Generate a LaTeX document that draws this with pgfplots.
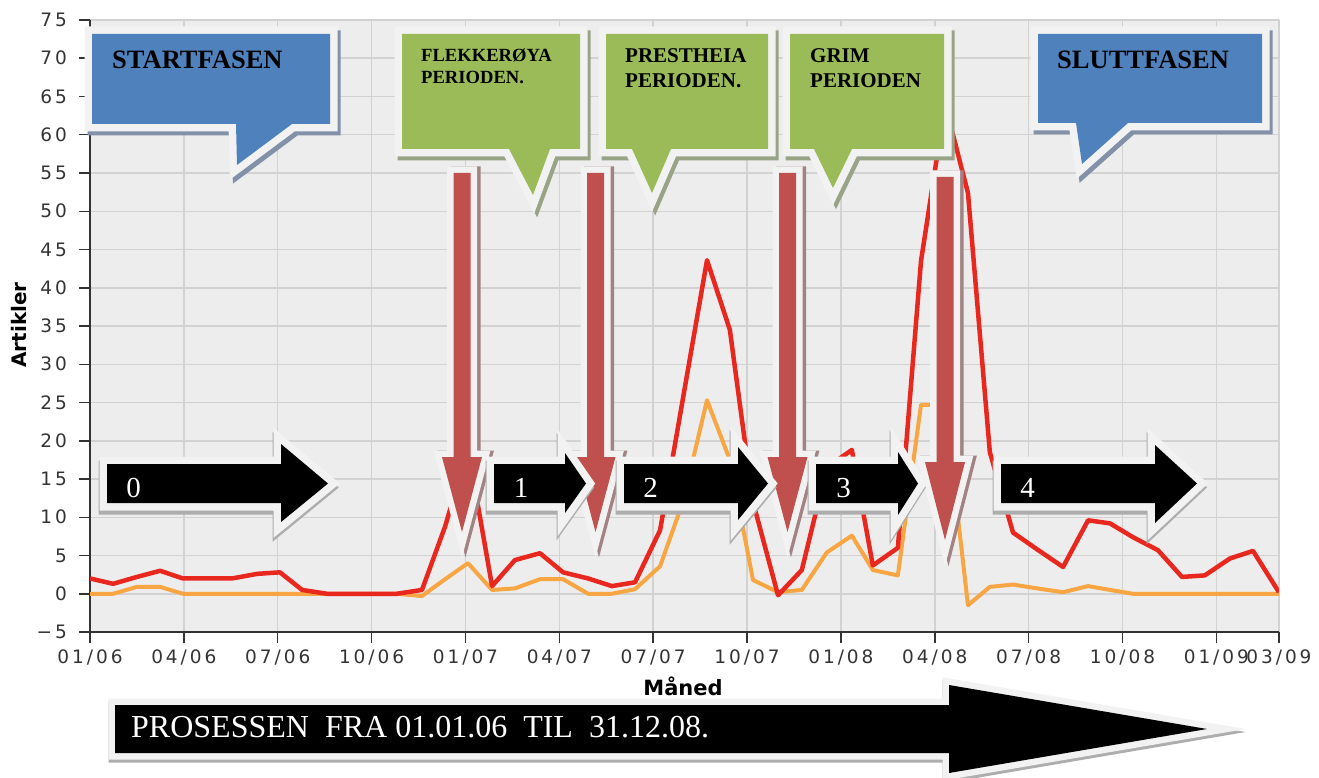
\documentclass[border=0pt]{standalone}
\usepackage{fontspec}
\setmainfont{Liberation Serif}
\newfontfamily\tickfont{DejaVu Sans}[LetterSpace=16]
\newfontfamily\labfont{DejaVu Sans}
\usepackage{pgfplots}
\pgfplotsset{compat=1.18}

\definecolor{plotbg}{HTML}{EDEDED}
\definecolor{gridc}{HTML}{D2D2D2}
\definecolor{axisc}{HTML}{333333}
\definecolor{redline}{HTML}{E8281E}
\definecolor{orangeline}{HTML}{F8A543}
\definecolor{callblue}{HTML}{4F81BD}
\definecolor{callgreen}{HTML}{9BBB59}
\definecolor{arrred}{HTML}{C0504D}
\definecolor{bord}{HTML}{F2F2F2}
\definecolor{shblue}{HTML}{8290A8}
\definecolor{shgreen}{HTML}{99A386}
\definecolor{shred}{HTML}{A38283}
\definecolor{shgray}{HTML}{ADADAD}

% fill, shadow colour, shadow shift, border width, closed path
\newcommand\shape[5]{%
  \filldraw[draw=#2, fill=#2, line width=#4, line join=miter, miter limit=10, shift={#3}] #5;
  \filldraw[draw=bord, fill=bord, line width=#4, line join=miter, miter limit=10] #5;
  \fill[#1] #5;}
% red down arrow: centre x, top, head top, tip y
\newcommand\redarrow[4]{\shape{arrred}{shred}{(3.5,0)}{13pt}{(#1-8.5,#2) -- (#1+8.5,#2) -- (#1+8.5,#3) -- (#1+20,#3) -- (#1,#4) -- (#1-20,#3) -- (#1-8.5,#3) -- cycle}}
% black right arrow: body left, head base, head top, head bottom, tip x
\newcommand\blackarrow[5]{\shape{black}{shgray}{(-1,4)}{15pt}{(#1,464) -- (#2,464) -- (#2,#3) -- (#5,483.5) -- (#2,#4) -- (#2,503) -- (#1,503) -- cycle}}

\begin{document}
\begin{tikzpicture}
\path[use as bounding box] (0,0) rectangle (1319pt,-778pt);
\begin{axis}[
  at={(90pt,-632pt)}, anchor=south west,
  scale only axis, width=1189pt, height=612pt,
  xmin=0, xmax=38, ymin=-5, ymax=75,
  axis x line*=bottom, axis y line*=left,
  axis line style={draw=axisc, line width=2pt},
  axis background/.style={fill=plotbg},
  grid=major, major grid style={draw=gridc, line width=1.5pt},
  tick align=outside, major tick length=11pt,
  tick style={draw=axisc, line width=1.5pt},
  xtick={0,3,6,9,12,15,18,21,24,27,30,33,36,38},
  xticklabels={01/06,04/06,07/06,10/06,01/07,04/07,07/07,10/07,01/08,04/08,07/08,10/08,01/09,03/09},
  ytick={-5,0,5,10,15,20,25,30,35,40,45,50,55,60,65,70,75},
  yticklabels={−5,0,5,10,15,20,25,30,35,40,45,50,55,60,65,70,75},
  ticklabel style={font=\tickfont\fontsize{18.5}{18.5}\selectfont, text=axisc, inner sep=0pt},
  yticklabel style={xshift=-12pt},
  xticklabel style={yshift=-7pt},
]
\addplot[orangeline, line width=4pt, line join=round] coordinates {
 (0,0) (0.74,0) (1.50,0.9) (2.24,0.9) (2.97,0) (3.77,0) (4.54,0) (5.34,0)
 (6.07,0) (6.78,0) (7.57,0) (8.31,0) (9.08,0) (9.81,0) (10.61,-0.3) (11.35,1.9)
 (12.08,4.0) (12.85,0.5) (13.58,0.7) (14.38,1.9) (15.12,1.9) (15.92,0) (16.68,0)
 (17.42,0.6) (18.22,3.6) (18.95,12.0) (19.72,25.3) (20.45,17.5) (21.19,1.8)
 (21.99,0.2) (22.75,0.5) (23.55,5.4) (24.35,7.6) (25.02,3.1) (25.82,2.4)
 (26.56,24.7) (27.33,24.7) (28.06,-1.5) (28.76,0.9) (29.50,1.2) (30.27,0.7)
 (31.10,0.2) (31.90,1.0) (32.60,0.5) (33.33,0) (34.13,0) (34.90,0) (35.63,0)
 (36.43,0) (37.17,0) (38.00,0)
};
\addplot[redline, line width=4.5pt, line join=round] coordinates {
 (0,2.0) (0.74,1.3) (1.50,2.2) (2.24,3.0) (2.97,2.0) (3.77,2.0) (4.54,2.0)
 (5.34,2.6) (6.07,2.8) (6.78,0.5) (7.57,0) (8.31,0) (9.08,0) (9.81,0)
 (10.61,0.5) (11.35,8.8) (12.08,19.0) (12.85,1.0) (13.58,4.4) (14.38,5.3)
 (15.12,2.8) (15.92,2.0) (16.68,1.0) (17.42,1.5) (18.22,8.3) (18.95,25.5)
 (19.72,43.6) (20.45,34.5) (21.19,12.0) (21.99,-0.2) (22.75,3.1) (23.55,16.5)
 (24.35,18.8) (25.02,3.7) (25.82,6.0) (26.56,43.5) (27.33,64.0) (28.06,52.4)
 (28.76,18.5) (29.50,8.0) (30.27,5.8) (31.10,3.5) (31.90,9.6) (32.60,9.2)
 (33.33,7.4) (34.13,5.7) (34.90,2.2) (35.63,2.4) (36.43,4.6) (37.17,5.6)
 (38.00,0.2)
};
\end{axis}

\begin{scope}[x=1pt, y=-1pt]
% axis titles
\node[rotate=90, font=\labfont\bfseries\fontsize{20}{20}\selectfont, text=black] at (19,325) {Artikler};
\node[font=\labfont\bfseries\fontsize{21}{21}\selectfont, text=black] at (683,686) {Måned};

% callouts
\shape{callblue}{shblue}{(3,4)}{15pt}{(92,34) -- (330,34) -- (330,124) -- (292,124) -- (237,165) -- (236,124) -- (92,124) -- cycle}
\shape{callgreen}{shgreen}{(3,4)}{15pt}{(402,34) -- (580,34) -- (580,149) -- (550,149) -- (533,195) -- (509,149) -- (402,149) -- cycle}
\shape{callgreen}{shgreen}{(3,4)}{15pt}{(606,34) -- (768,34) -- (768,149) -- (671,149) -- (652,193) -- (632,149) -- (606,149) -- cycle}
\shape{callgreen}{shgreen}{(3,4)}{15pt}{(790,34) -- (944,34) -- (944,149) -- (852,149) -- (833,188) -- (814,149) -- (790,149) -- cycle}
\shape{callblue}{shblue}{(3,4)}{15pt}{(1038,34) -- (1262,34) -- (1262,123) -- (1128,123) -- (1082,164) -- (1076,123) -- (1038,123) -- cycle}

\begin{scope}[every node/.style={anchor=base west, inner sep=0pt, text=black}]
\node[font=\bfseries\fontsize{26.5}{26.5}\selectfont] at (112,69) {STARTFASEN};
\node[font=\bfseries\fontsize{18.6}{18.6}\selectfont] at (421,62) {FLEKKERØYA};
\node[font=\bfseries\fontsize{18.6}{18.6}\selectfont] at (421,83.5) {PERIODEN.};
\node[font=\bfseries\fontsize{21}{21}\selectfont] at (625,63) {PRESTHEIA};
\node[font=\bfseries\fontsize{21}{21}\selectfont] at (625,88) {PERIODEN.};
\node[font=\bfseries\fontsize{21}{21}\selectfont] at (810,63) {GRIM};
\node[font=\bfseries\fontsize{21}{21}\selectfont] at (810,88) {PERIODEN};
\node[font=\bfseries\fontsize{26.5}{26.5}\selectfont] at (1057,69) {SLUTTFASEN};
\end{scope}

% red down arrows
\redarrow{462}{173}{457}{532}
\redarrow{595.5}{173}{457}{532}
\redarrow{787.5}{173}{457}{532}
\redarrow{945}{177}{462}{540}

% black phase arrows
\blackarrow{107}{281}{444}{522}{328}
\blackarrow{494}{565}{453}{513}{586}
\blackarrow{624}{738}{447}{520}{768}
\blackarrow{816}{898}{452}{515}{918}
\blackarrow{1001}{1155}{445}{523}{1197}
\begin{scope}[every node/.style={anchor=base, inner sep=0pt, text=white, font=\fontsize{29}{29}\selectfont}]
\node at (133.5,497) {0};
\node at (521,497) {1};
\node at (650.5,497) {2};
\node at (843.5,497) {3};
\node at (1027.5,497) {4};
\end{scope}

% process arrow
\shape{black}{shgray}{(0,3)}{13pt}{(115,705) -- (949,705) -- (949,685) -- (1207,729) -- (949,773) -- (949,753) -- (115,753) -- cycle}
\node[anchor=base west, inner sep=0pt, text=white, font=\fontsize{32}{32}\selectfont] at (131,737) {PROSESSEN\ \ FRA 01.01.06\ \ TIL\ \ 31.12.08.};
\end{scope}
\end{tikzpicture}
\end{document}
